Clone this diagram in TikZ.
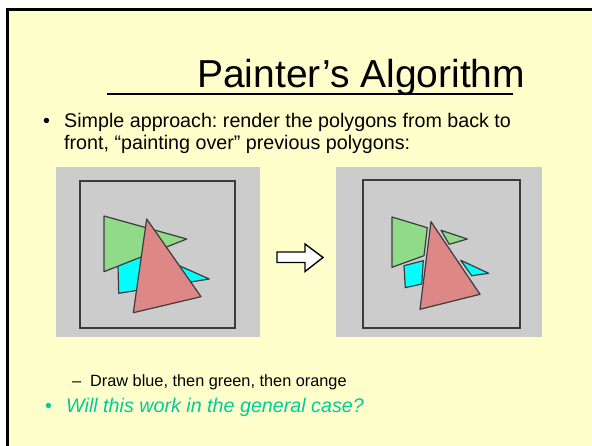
\documentclass[tikz,border=0pt]{standalone}
\usepackage{fontspec}
\setmainfont{Liberation Sans}
\usetikzlibrary{positioning}
\frenchspacing

\definecolor{slideyellow}{HTML}{FFFFCC}
\definecolor{panelgray}{HTML}{CCCCCC}
\definecolor{polygreen}{HTML}{8FDB8A}
\definecolor{polycyan}{HTML}{00FFFF}
\definecolor{polyred}{HTML}{DE8787}
\definecolor{edgegray}{HTML}{3C3C3C}
\definecolor{askgreen}{HTML}{00CC99}

\begin{document}
\begin{tikzpicture}[
    x=1pt, y=-1pt,
    panel/.style={fill=panelgray},
    frame/.style={draw=edgegray, line width=1.3pt},
    poly/.style={draw=edgegray, line width=1.2pt, line join=round},
    txt/.style={anchor=base west, inner sep=0pt, font=\fontsize{19.7}{23}\selectfont},
    subtxt/.style={anchor=base west, inner sep=0pt, font=\fontsize{16.3}{20}\selectfont}
]
\useasboundingbox (0,0) rectangle (592,446);
\fill[white] (0,0) rectangle (592,446);
\fill[slideyellow] (7,9.5) rectangle (592,446);
\draw[black, line width=2.5pt] (7.5,446) -- (7.5,9.5) -- (592,9.5);

% title
\node[anchor=base west, inner sep=0pt, font=\fontsize{39}{47}\selectfont] (title) at (197,88) {Painter’s Algorithm};
\draw[line width=1.3pt] (107,94) -- (513,94);

% bullets
\node[txt] (b1) at (43,128) {•};
\node[txt] (l1) at (64,128) {Simple approach: render the polygons from back to};
\node[txt] (l2) at (64,150) {front, “painting over” previous polygons:};

% before
\fill[panel] (56,167) rectangle (260,337);
\draw[frame] (80,181) rectangle (235,328);
\draw[poly, fill=polycyan] (117.3,238.3) -- (118.7,293.3) -- (209.3,279) -- cycle;
\draw[poly, fill=polygreen] (104,216) -- (104,271.7) -- (186.7,239) -- cycle;
\draw[poly, fill=polyred] (146.7,219) -- (133.3,312.7) -- (201,296.7) -- cycle;

% arrow
\draw[line width=1.4pt, fill=white, line join=miter] (277,252) -- (305,252) -- (305,244) -- (323,257.5)
    -- (305,271.5) -- (305,262.5) -- (277,262.5) -- cycle;

% after
\fill[panel] (336,167) rectangle (542,337);
\draw[frame] (363,180) rectangle (520,328);
\draw[poly, fill=polygreen] (392,217) -- (427.3,227.7) -- (424,255.7) -- (392,267.3) -- cycle;
\draw[poly, fill=polygreen] (441,230.3) -- (467.3,239) -- (449.3,244.3) -- cycle;
\draw[poly, fill=polycyan] (404,265.7) -- (423.3,260.7) -- (421.7,284) -- (405.3,287.7) -- cycle;
\draw[poly, fill=polycyan] (460.7,260.3) -- (488.7,273.3) -- (471.7,275.7) -- cycle;
\draw[poly, fill=polyred] (431,221.7) -- (420,309.3) -- (480,294.3) -- cycle;

\node[subtxt] (d1) at (72,387) {–};
\node[subtxt] (s1) at (90,387) {Draw blue, then green, then orange};
\node[txt, text=askgreen] (b2) at (45,412) {•};
\node[txt, text=askgreen, font=\fontsize{19.7}{23}\selectfont\itshape] (q1) at (66,412) {Will this work in the general case?};
\end{tikzpicture}
\end{document}
